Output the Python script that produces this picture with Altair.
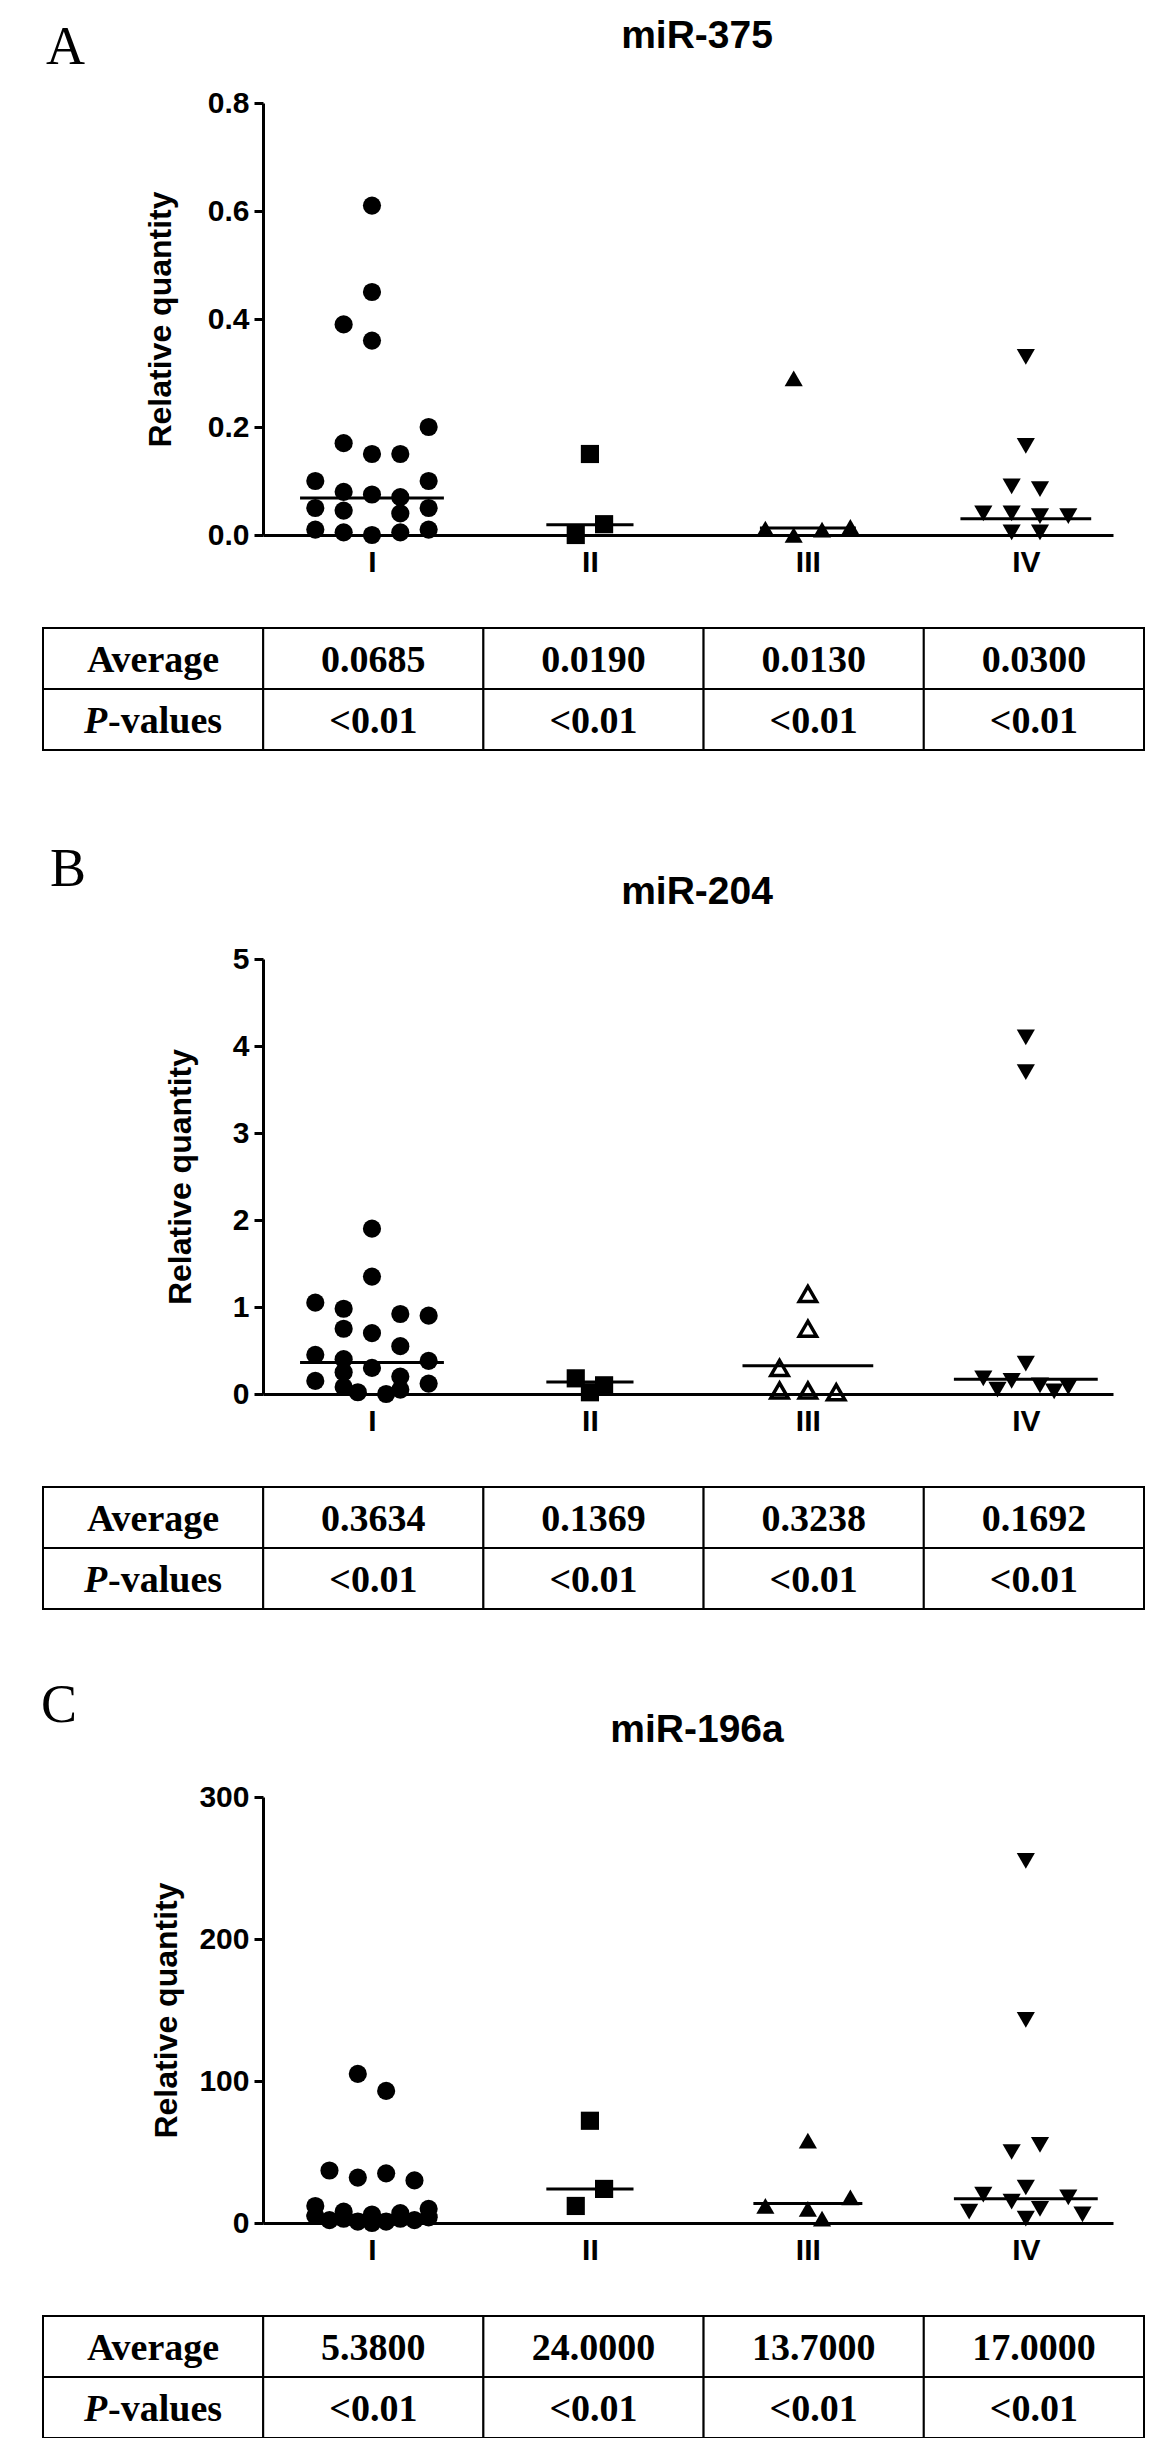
import altair as alt
import pandas as pd

GROUPS = ["I", "II", "III", "IV"]
SHAPES = ["circle", "square", "triangle-up", "triangle-down"]
SP = 0.13  # visual column spacing of the scatter, in group units

# ---------------- data: panel A (miR-375) ----------------
A_vals = [
    [0.61, 0.45, 0.39, 0.36, 0.20, 0.17, 0.15, 0.15, 0.10, 0.10, 0.08, 0.075,
     0.07, 0.05, 0.045, 0.04, 0.05, 0.01, 0.005, 0.0, 0.005, 0.01],
    [0.15, 0.02, 0.0],
    [0.29, 0.012, 0.0, 0.01, 0.015],
    [0.33, 0.165, 0.09, 0.085, 0.04, 0.04, 0.035, 0.035, 0.005, 0.005],
]
A_offs = [
    [0, 0, -1, 0, 2, -1, 0, 1, -2, 2, -1, 0,
     1, -2, -1, 1, 2, -2, -1, 0, 1, 2],
    [0, 0.5, -0.5],
    [-0.5, -1.5, -0.5, 0.5, 1.5],
    [0, 0, -0.5, 0.5, -1.5, -0.5, 0.5, 1.5, -0.5, 0.5],
]
A_avg = [0.0685, 0.0190, 0.0130, 0.0300]
A_avg_txt = ["0.0685", "0.0190", "0.0130", "0.0300"]

# ---------------- data: panel B (miR-204) ----------------
B_vals = [
    [1.9, 1.35, 1.05, 0.98, 0.92, 0.9, 0.75, 0.7, 0.55, 0.45, 0.4, 0.38,
     0.3, 0.25, 0.2, 0.15, 0.12, 0.08, 0.05, 0.02, 0.0],
    [0.18, 0.1, 0.02],
    [1.15, 0.75, 0.3, 0.04, 0.04, 0.02],
    [4.1, 3.7, 0.35, 0.18, 0.15, 0.1, 0.08, 0.05, 0.03],
]
B_offs = [
    [0, 0, -2, -1, 1, 2, -1, 0, 1, -2, -1, 2, 0, -1, 1, -2, 2, -1, 1, -0.5, 0.5],
    [-0.5, 0.5, 0],
    [0, 0, -1, -1, 0, 1],
    [0, 0, 0, -1.5, -0.5, 0.5, 1.5, -1, 1],
]
B_open = [False, False, True, False]
B_avg = [0.3634, 0.1369, 0.3238, 0.1692]
B_avg_txt = ["0.3634", "0.1369", "0.3238", "0.1692"]

# ---------------- data: panel C (miR-196a) ----------------
C_vals = [
    [105, 93, 37, 35, 32, 30, 12, 10, 8, 7, 6, 5, 4, 3, 3, 2, 2, 1, 1, 0],
    [72, 24, 12],
    [58, 18, 12, 10, 3],
    [255, 143, 55, 50, 25, 20, 18, 15, 10, 8, 6, 3],
]
C_offs = [
    [-0.5, 0.5, -1.5, 0.5, -0.5, 1.5, -2, 2, -1, 1, 0, -2, 2, -1, 1, -1.5, 1.5, -0.5, 0.5, 0],
    [0, 0.5, -0.5],
    [0, 1.5, -1.5, 0, 0.5],
    [0, 0, 0.5, -0.5, 0, -1.5, 1.5, -0.5, 0.5, -2, 2, 0],
]
C_avg = [5.38, 24.0, 13.7, 17.0]
C_avg_txt = ["5.3800", "24.0000", "13.7000", "17.0000"]

P_txt = ["<0.01", "<0.01", "<0.01", "<0.01"]

LINE_HALF = {
    "A": [0.33, 0.2, 0.22, 0.3],
    "B": [0.33, 0.2, 0.3, 0.33],
    "C": [0.3, 0.2, 0.25, 0.33],
}

SANS = "Liberation Sans"
SERIF = "Liberation Serif"
TFS = 38  # table font size


def panel(letter, title, vals, offs, avg, avg_txt, ydom, yticks, yfmt, H,
          title_pad, lab_x, lab_y, open_groups=(False, False, False, False)):
    W = 850
    xs = alt.Scale(domain=[0.5, 4.4], nice=False, zero=False)
    ys = alt.Scale(domain=ydom, nice=False, zero=False)

    rows = []
    for gi, (vv, oo) in enumerate(zip(vals, offs)):
        for v, o in zip(vv, oo):
            rows.append({"x": gi + 1 + o * SP, "v": v, "shape": SHAPES[gi],
                         "open": open_groups[gi]})
    df = pd.DataFrame(rows)

    xaxis = alt.Axis(values=[1, 2, 3, 4],
                     labelExpr="['I','II','III','IV'][datum.value-1]",
                     ticks=False, domainWidth=3, domainColor="black",
                     labelFont=SANS, labelFontWeight="bold", labelFontSize=30,
                     labelColor="black", labelPadding=12, title=None, grid=False)
    yaxis = alt.Axis(values=yticks, format=yfmt, tickSize=9, tickWidth=3,
                     tickColor="black", domainWidth=3, domainColor="black",
                     labelFont=SANS, labelFontWeight="bold", labelFontSize=30,
                     labelColor="black", labelPadding=5, grid=False,
                     title="Relative quantity", titleFont=SANS,
                     titleFontWeight="bold", titleFontSize=32, titleColor="black",
                     titlePadding=title_pad)

    layers = []
    filled = alt.Chart(df[~df["open"]]).mark_point(
        filled=True, size=330, opacity=1, color="black"
    ).encode(
        x=alt.X("x:Q", scale=xs, axis=xaxis),
        y=alt.Y("v:Q", scale=ys, axis=yaxis),
        shape=alt.Shape("shape:N", scale=None),
    )
    layers.append(filled)
    if df["open"].any():
        hollow = alt.Chart(df[df["open"]]).mark_point(
            filled=False, size=300, opacity=1, color="black", strokeWidth=3.5
        ).encode(
            x=alt.X("x:Q", scale=xs, axis=None),
            y=alt.Y("v:Q", scale=ys, axis=None),
            shape=alt.Shape("shape:N", scale=None),
        )
        layers.append(hollow)

    mdf = pd.DataFrame({
        "x1": [i + 1 - h for i, h in enumerate(LINE_HALF[letter])],
        "x2": [i + 1 + h for i, h in enumerate(LINE_HALF[letter])],
        "m": avg,
    })
    rules = alt.Chart(mdf).mark_rule(strokeWidth=3, color="black").encode(
        x=alt.X("x1:Q", scale=xs, axis=None), x2="x2:Q",
        y=alt.Y("m:Q", scale=ys, axis=None),
    )
    layers.append(rules)

    # ---- table ----
    trows = []
    cols = ["c0", "c1", "c2", "c3", "c4"]
    for r, row_vals in enumerate([avg_txt, P_txt]):
        trows.append({"col": "c0", "row": f"r{r}", "t": "Average" if r == 0 else ""})
        for c, t in enumerate(row_vals):
            trows.append({"col": cols[c + 1], "row": f"r{r}", "t": t})
    tdf = pd.DataFrame(trows)
    tx = alt.X("col:O", scale=alt.Scale(domain=cols, range=[-220, 881],
                                        paddingInner=0, paddingOuter=0), axis=None)
    ty = alt.Y("row:O", scale=alt.Scale(domain=["r0", "r1"], range=[H + 93, H + 215],
                                        paddingInner=0, paddingOuter=0), axis=None)
    cells = alt.Chart(tdf).mark_rect(fill="white", stroke="black", strokeWidth=2).encode(
        x=tx, y=ty)
    ttext = alt.Chart(tdf).mark_text(font=SERIF, fontWeight="bold", fontSize=TFS,
                                     color="black", baseline="middle", dy=2).encode(
        x=tx, y=ty, text="t:N")
    pdf = pd.DataFrame({"col": ["c0"], "row": ["r1"], "a": ["P"], "b": ["-values"]})
    p_it = alt.Chart(pdf).mark_text(font=SERIF, fontWeight="bold", fontStyle="italic",
                                    fontSize=TFS, color="black", align="left",
                                    baseline="middle", dx=-69, dy=2).encode(
        x=tx, y=ty, text="a:N")
    p_rest = alt.Chart(pdf).mark_text(font=SERIF, fontWeight="bold", fontSize=TFS,
                                      color="black", align="left",
                                      baseline="middle", dx=-45, dy=2).encode(
        x=tx, y=ty, text="b:N")
    layers += [cells, ttext, p_it, p_rest]

    # ---- letter and title ----
    lab = alt.Chart(pd.DataFrame({"t": [letter]})).mark_text(
        font=SERIF, fontSize=54, color="black", align="left", baseline="alphabetic"
    ).encode(text="t:N", x=alt.value(lab_x), y=alt.value(lab_y))
    ttl = alt.Chart(pd.DataFrame({"t": [title]})).mark_text(
        font=SANS, fontWeight="bold", fontSize=39, color="black", align="center",
        baseline="alphabetic"
    ).encode(text="t:N", x=alt.value(434), y=alt.value(-55))
    layers += [lab, ttl]

    return alt.layer(*layers).resolve_scale(
        x="independent", y="independent").properties(width=W, height=H)


pA = panel("A", "miR-375", A_vals, A_offs, A_avg, A_avg_txt, [0, 0.8],
           [0, 0.2, 0.4, 0.6, 0.8], ".1f", 432, 30, -217, -39)
pB = panel("B", "miR-204", B_vals, B_offs, B_avg, B_avg_txt, [0, 5],
           [0, 1, 2, 3, 4, 5], "d", 435, 35, -213, -73, open_groups=B_open)
pC = panel("C", "miR-196a", C_vals, C_offs, C_avg, C_avg_txt, [0, 300],
           [0, 100, 200, 300], "d", 426, 15, -222, -75)

chart = alt.vconcat(pA, alt.vconcat(pB, pC, spacing=69), spacing=92).properties(
    padding={"left": 33, "top": 9, "right": 5, "bottom": 0}
).configure(background="white", view=alt.ViewConfig(stroke=None))

chart.save("out.html", embed_options={"renderer": "svg", "actions": False})
